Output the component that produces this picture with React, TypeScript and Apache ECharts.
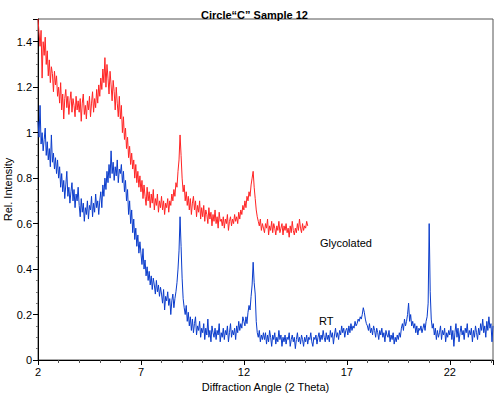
import React, { useEffect, useRef } from "react";
import * as echarts from "echarts";

// Sampling grid: 2θ from 2.00 in steps of 0.05
const X_START = 2;
const X_STEP = 0.05;

// Glycolated (red), 2.00 … 15.10
const glycolated: number[] = [
  1.50,1.44,1.38,1.45,1.24,1.40,1.34,1.42,1.30,1.36,1.25,1.32,1.22,1.29,1.26,1.18,1.27,1.21,1.25,1.16,
  1.20,1.13,1.22,1.10,1.17,1.06,1.15,1.19,1.11,1.16,1.08,1.14,1.18,1.09,1.15,1.12,1.07,1.16,1.10,1.14,
  1.09,1.15,1.05,1.13,1.17,1.08,1.12,1.06,1.14,1.10,1.16,1.07,1.13,1.18,1.09,1.15,1.11,1.19,1.13,1.21,
  1.16,1.24,1.19,1.28,1.22,1.33,1.20,1.30,1.24,1.17,1.27,1.21,1.14,1.23,1.18,1.10,1.20,1.13,1.07,1.16,
  1.06,1.12,1.00,1.07,0.97,1.02,0.93,0.98,0.89,0.94,0.86,0.91,0.84,0.88,0.80,0.86,0.78,0.83,0.76,0.81,
  0.74,0.79,0.71,0.77,0.72,0.68,0.76,0.70,0.74,0.67,0.73,0.69,0.75,0.66,0.71,0.68,0.73,0.65,0.70,0.67,
  0.72,0.66,0.70,0.64,0.69,0.67,0.71,0.65,0.70,0.68,0.73,0.70,0.75,0.72,0.78,0.76,0.83,0.88,0.99,0.90,
  0.80,0.74,0.77,0.70,0.74,0.68,0.72,0.66,0.71,0.64,0.69,0.72,0.66,0.70,0.63,0.68,0.65,0.70,0.62,0.67,
  0.63,0.68,0.61,0.66,0.64,0.60,0.67,0.62,0.65,0.59,0.64,0.61,0.66,0.60,0.63,0.58,0.65,0.61,0.62,0.59,
  0.63,0.58,0.62,0.60,0.64,0.57,0.61,0.63,0.59,0.62,0.60,0.64,0.61,0.63,0.60,0.65,0.62,0.66,0.64,0.68,
  0.66,0.70,0.67,0.72,0.70,0.74,0.72,0.77,0.80,0.83,0.76,0.71,0.66,0.63,0.61,0.59,0.62,0.57,0.60,0.58,
  0.56,0.60,0.58,0.62,0.55,0.59,0.57,0.61,0.56,0.60,0.58,0.55,0.59,0.57,0.61,0.56,0.58,0.60,0.55,0.59,
  0.57,0.60,0.56,0.58,0.54,0.59,0.56,0.61,0.57,0.55,0.58,0.56,0.60,0.57,0.62,0.58,0.56,0.60,0.57,0.59,
  0.58,0.61,0.59,
];

// RT (blue), 2.00 … 24.10
const rt: number[] = [
  1.05,0.98,1.12,0.95,1.00,0.92,0.97,1.02,0.90,0.96,0.88,0.93,0.85,0.99,0.87,0.91,0.84,0.89,0.82,0.88,
  0.80,0.85,0.76,0.82,0.74,0.79,0.71,0.77,0.83,0.72,0.76,0.69,0.74,0.78,0.70,0.75,0.67,0.73,0.70,0.76,
  0.68,0.63,0.71,0.65,0.69,0.61,0.67,0.64,0.70,0.62,0.68,0.66,0.72,0.63,0.69,0.65,0.73,0.67,0.70,0.64,
  0.70,0.74,0.67,0.77,0.72,0.80,0.75,0.83,0.78,0.86,0.80,0.92,0.82,0.87,0.79,0.85,0.81,0.88,0.78,0.84,
  0.82,0.86,0.78,0.83,0.74,0.79,0.70,0.75,0.64,0.70,0.60,0.66,0.56,0.62,0.53,0.58,0.50,0.55,0.47,0.52,
  0.47,0.42,0.49,0.40,0.44,0.37,0.41,0.35,0.39,0.33,0.37,0.31,0.36,0.33,0.29,0.35,0.30,0.33,0.28,0.32,
  0.29,0.25,0.31,0.22,0.28,0.26,0.30,0.24,0.27,0.20,0.26,0.29,0.23,0.27,0.30,0.34,0.40,0.48,0.63,0.50,
  0.36,0.27,0.23,0.20,0.24,0.17,0.21,0.15,0.19,0.13,0.18,0.12,0.16,0.19,0.11,0.15,0.13,0.17,0.10,0.14,
  0.12,0.16,0.09,0.14,0.11,0.18,0.10,0.13,0.08,0.15,0.12,0.10,0.14,0.09,0.13,0.11,0.16,0.08,0.12,0.10,
  0.14,0.09,0.13,0.11,0.15,0.08,0.12,0.16,0.10,0.13,0.11,0.14,0.09,0.15,0.12,0.17,0.13,0.16,0.14,0.19,
  0.17,0.15,0.19,0.16,0.21,0.24,0.22,0.28,0.33,0.43,0.34,0.29,0.17,0.12,0.10,0.13,0.08,0.11,0.09,0.12,
  0.09,0.12,0.07,0.11,0.08,0.13,0.10,0.06,0.11,0.09,0.12,0.07,0.10,0.08,0.13,0.09,0.11,0.06,0.10,0.08,
  0.11,0.07,0.10,0.09,0.12,0.06,0.09,0.11,0.08,0.10,0.05,0.09,0.12,0.08,0.10,0.07,0.11,0.09,0.06,0.10,
  0.08,0.11,0.07,0.10,0.09,0.12,0.08,0.06,0.10,0.09,0.11,0.07,0.10,0.12,0.08,0.11,0.09,0.13,0.10,0.08,
  0.12,0.09,0.11,0.08,0.13,0.10,0.12,0.07,0.11,0.14,0.10,0.12,0.09,0.13,0.11,0.15,0.12,0.14,0.10,0.13,
  0.14,0.11,0.15,0.12,0.16,0.13,0.15,0.14,0.17,0.15,0.16,0.18,0.17,0.19,0.18,0.20,0.23,0.21,0.18,0.16,
  0.15,0.13,0.16,0.12,0.14,0.11,0.15,0.13,0.10,0.14,0.12,0.09,0.13,0.11,0.14,0.10,0.12,0.08,0.13,0.11,
  0.10,0.13,0.08,0.11,0.09,0.12,0.07,0.10,0.08,0.11,0.09,0.12,0.10,0.14,0.16,0.13,0.18,0.15,0.17,0.20,
  0.25,0.17,0.20,0.15,0.17,0.14,0.16,0.12,0.15,0.11,0.14,0.13,0.15,0.12,0.14,0.16,0.13,0.17,0.19,0.25,
  0.60,0.30,0.18,0.14,0.16,0.11,0.14,0.09,0.13,0.10,0.12,0.15,0.09,0.13,0.11,0.14,0.08,0.12,0.10,0.13,
  0.11,0.15,0.09,0.13,0.06,0.12,0.16,0.10,0.14,0.08,0.12,0.15,0.11,0.13,0.09,0.14,0.12,0.16,0.10,0.13,
  0.11,0.14,0.08,0.13,0.10,0.15,0.12,0.09,0.14,0.11,0.16,0.13,0.18,0.12,0.15,0.10,0.17,0.13,0.19,0.14,
  0.16,0.08,0.15,
];

const xTickLabels = ["2", "7", "12", "17", "22"];
const seriesNames = ["Glycolated", "RT"];

const FONT = "'Liberation Sans', Arial, Helvetica, sans-serif";

function toPairs(values: number[]): [number, number][] {
  return values.map((v, i) => [+(X_START + i * X_STEP).toFixed(2), v]);
}

export default function App() {
  const ref = useRef<HTMLDivElement>(null);

  useEffect(() => {
    if (!ref.current) return;
    const chart = echarts.init(ref.current, undefined, { renderer: "svg" });
    chart.setOption({
      animation: false,
      backgroundColor: "#ffffff",
      textStyle: { fontFamily: FONT },
      title: {
        text: "Circle\u201CC\u201D Sample 12",
        left: 196,
        top: 4,
        textStyle: { fontFamily: FONT, fontSize: 11, fontWeight: "bold", color: "#000" },
      },
      grid: {
        left: 38,
        right: 7,
        top: 19,
        bottom: 36,
        containLabel: false,
        outerBoundsMode: "none",
        show: true,
        borderColor: "#555",
        borderWidth: 1,
        backgroundColor: "#fff",
      },
      xAxis: {
        type: "value",
        min: 2,
        max: 24.1,
        interval: 5,
        name: "Diffraction Angle (2 Theta)",
        nameLocation: "middle",
        nameGap: 21,
        nameMoveOverlap: false,
        nameTextStyle: { fontFamily: FONT, fontSize: 11, color: "#000" },
        axisLine: { show: true, lineStyle: { color: "#000", width: 1 } },
        axisTick: { show: true, length: 5, lineStyle: { color: "#000" } },
        minorTick: { show: true, splitNumber: 5, length: 3, lineStyle: { color: "#555" } },
        splitLine: { show: false },
        axisLabel: {
          margin: 6,
          fontFamily: FONT,
          fontSize: 11,
          color: "#000",
          showMaxLabel: false,
          formatter: (v: number) => (xTickLabels.includes(String(v)) ? String(v) : ""),
        },
      },
      yAxis: {
        type: "value",
        min: 0,
        max: 1.5,
        interval: 0.2,
        name: "Rel. Intensity",
        nameLocation: "middle",
        nameGap: 25,
        nameMoveOverlap: false,
        nameTextStyle: { fontFamily: FONT, fontSize: 11, color: "#000" },
        axisLine: { show: true, lineStyle: { color: "#000", width: 1 } },
        axisTick: { show: true, length: 5, lineStyle: { color: "#000" } },
        minorTick: { show: true, splitNumber: 4, length: 2, lineStyle: { color: "#777" } },
        splitLine: { show: false },
        axisLabel: {
          margin: 6,
          fontFamily: FONT,
          fontSize: 11,
          color: "#000",
          showMaxLabel: false,
          formatter: (v: number) => (v > 1.45 ? "" : String(+v.toFixed(1))),
        },
      },
      series: [
        {
          name: seriesNames[0],
          type: "line",
          data: toPairs(glycolated),
          showSymbol: false,
          symbol: "none",
          lineStyle: { color: "#ff2424", width: 1 },
          z: 2,
        },
        {
          name: seriesNames[1],
          type: "line",
          data: toPairs(rt),
          showSymbol: false,
          symbol: "none",
          lineStyle: { color: "#0a3ccc", width: 1 },
          z: 3,
        },
      ],
      graphic: [
        {
          type: "text",
          left: 320,
          top: 237,
          style: { text: seriesNames[0], fontFamily: FONT, fontSize: 11, fill: "#000" },
        },
        {
          type: "text",
          left: 319,
          top: 315,
          style: { text: seriesNames[1], fontFamily: FONT, fontSize: 11, fill: "#000" },
        },
      ],
    });
    return () => chart.dispose();
  }, []);

  return <div ref={ref} style={{ width: 500, height: 396, position: "absolute", left: 0, top: 0 }} />;
}
